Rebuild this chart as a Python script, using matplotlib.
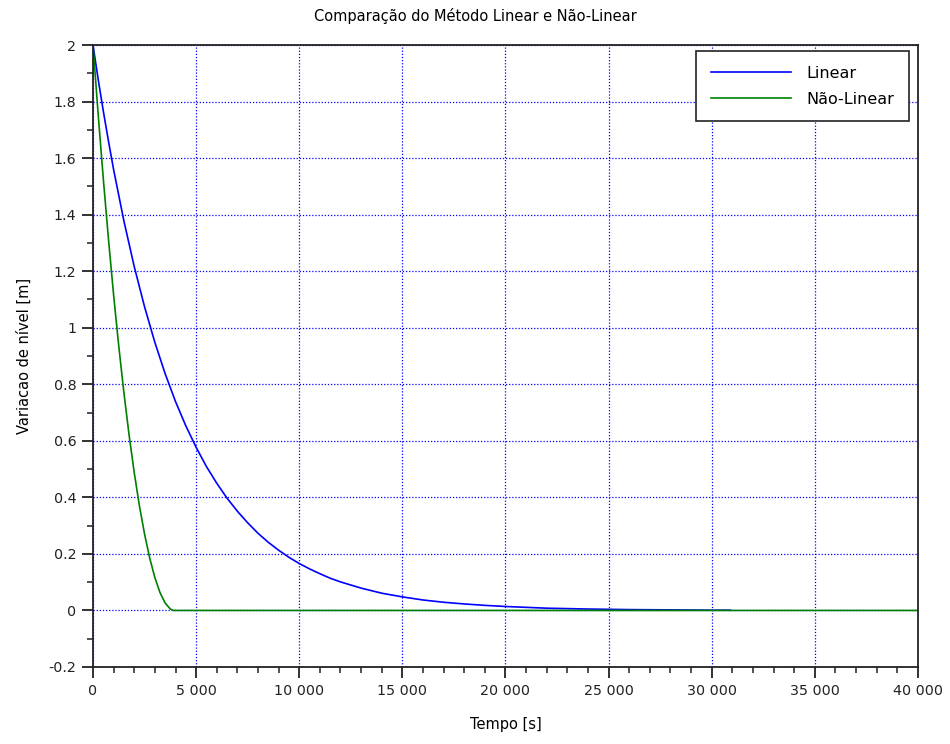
from matplotlib import pyplot as plt
from matplotlib.ticker import MultipleLocator, FuncFormatter

plt.rcParams['axes.unicode_minus'] = False
plt.rcParams['font.family'] = ['DejaVu Sans']

# nivel (tempo em s, variacao em m)
t_linear = [0, 250, 500, 750, 1000, 1500, 2000, 2500, 3000, 3500, 4000, 4500, 5000, 5500,
            6000, 6500, 7000, 7500, 8000, 8500, 9000, 9500, 10000, 10500, 11000, 11500,
            12000, 13000, 14000, 15000, 16000, 17000, 18000, 19000, 20000, 22000, 24000,
            26000, 28000, 30000, 30900]
h_linear = [2.0, 1.879, 1.766, 1.660, 1.559, 1.377, 1.216, 1.074, 0.948, 0.837, 0.739, 0.653,
            0.577, 0.509, 0.450, 0.397, 0.351, 0.310, 0.273, 0.241, 0.213, 0.188, 0.166,
            0.147, 0.130, 0.114, 0.101, 0.079, 0.061, 0.048, 0.037, 0.029, 0.023, 0.018,
            0.014, 0.008, 0.005, 0.003, 0.002, 0.001, 0.001]

t_naolinear = [0, 250, 500, 750, 1000, 1250, 1500, 1750, 2000, 2250, 2500, 2750,
               3000, 3250, 3500, 3750, 3900, 40000]
h_naolinear = [2.0, 1.755, 1.526, 1.313, 1.115, 0.934, 0.769, 0.620, 0.487, 0.370, 0.270, 0.185,
               0.116, 0.063, 0.026, 0.005, 0.0, 0.0]

fig = plt.figure(figsize=(9.5, 7.44), dpi=100)
ax = fig.add_axes([0.0979, 0.1035, 0.8684, 0.836])

ax.plot(t_linear, h_linear, color='#0000ff', lw=1.2, label='Linear')
ax.plot(t_naolinear, h_naolinear, color='#008000', lw=1.2, label='Não-Linear')

ax.set_xlim(0, 40000)
ax.set_ylim(-0.2, 2)
ax.xaxis.set_major_locator(MultipleLocator(5000))
ax.xaxis.set_minor_locator(MultipleLocator(1000))
ax.yaxis.set_major_locator(MultipleLocator(0.2))
ax.yaxis.set_minor_locator(MultipleLocator(0.1))
ax.xaxis.set_major_formatter(FuncFormatter(lambda v, p: '{:,}'.format(int(round(v))).replace(',', ' ')))
ax.yaxis.set_major_formatter(FuncFormatter(lambda v, p: '%g' % round(v, 2)))

ax.grid(True, which='major', color='#0000ff', linestyle=(0, (1, 1.5)), linewidth=0.9)
ax.set_axisbelow(True)

for s in ax.spines.values():
    s.set_linewidth(1.3)
    s.set_color('#222222')
ax.tick_params(which='major', direction='out', length=8, width=1.3, labelsize=10.3, colors='#222222', pad=4)
ax.tick_params(which='minor', direction='out', length=4, width=1.1, colors='#222222')

# titulo centrado na figura, como no original
fig.text(0.5, 0.979, 'Comparação do Método Linear e Não-Linear', fontsize=10.5,
         ha='center', va='center')
ax.set_xlabel('Tempo [s]', fontsize=10.5, labelpad=14)
ax.set_ylabel('Variacao de nível [m]', fontsize=10.5, labelpad=12)

leg = ax.legend(loc='upper right', fontsize=11.5, fancybox=False, framealpha=1,
                edgecolor='#222222', handlelength=5.0, handletextpad=1.0, borderpad=0.9,
                labelspacing=0.7, borderaxespad=0, bbox_to_anchor=(0.989, 0.99))
leg.get_frame().set_linewidth(1.2)

fig.savefig('out.png', dpi=100)
